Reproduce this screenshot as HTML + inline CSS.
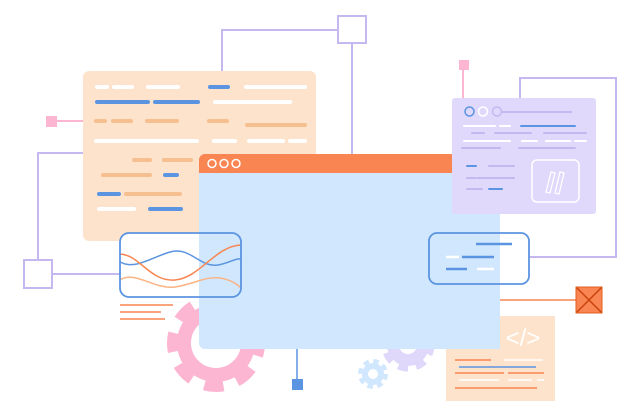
<!DOCTYPE html>
<html><head><meta charset="utf-8"><style>
html,body{margin:0;padding:0;background:#fff;}
svg{display:block;}
</style></head><body>
<svg width="640" height="417" viewBox="0 0 640 417" xmlns="http://www.w3.org/2000/svg">
<!-- connectors -->
<g fill="none" stroke="#c5b8f0" stroke-width="2">
  <polyline points="222,71 222,30 338,30"/>
  <rect x="338" y="16" width="28" height="27" fill="#fff"/>
  <line x1="352" y1="43" x2="352" y2="154"/>
  <polyline points="83,153 38,153 38,260"/>
  <rect x="24" y="260" width="28" height="28" fill="#fff"/>
  <line x1="52" y1="274" x2="120" y2="274"/>
  <polyline points="520,98 520,78 616,78 616,257 529,257"/>
</g>
<line x1="57" y1="121" x2="83" y2="121" stroke="#fdb6d1" stroke-width="2"/>
<rect x="46" y="116" width="11" height="11" fill="#fdb6d1"/>
<line x1="463" y1="70" x2="463" y2="98" stroke="#fdb6d1" stroke-width="2"/>
<rect x="459" y="60" width="10" height="10" fill="#fdb6d1"/>

<!-- peach panel -->
<rect x="83" y="71" width="233" height="170" rx="6" fill="#fee3cc"/>
<g stroke-width="4" stroke-linecap="round" fill="none">
  <g stroke="#fff">
    <path d="M97 87h10M114 87h18M148 87h30M246 87h59M215 102h75M96 141h101M214 141h21M249 141h34M290 141h15M99 209h35"/>
  </g>
  <g stroke="#5b94e0">
    <path d="M210 87h18M97 102h51M155 102h43M165 175h12M99 194h20M150 209h31"/>
  </g>
  <g stroke="#f5bf8f">
    <path d="M96 121h9M113 121h18M147 121h30M209 121h18M247 125h58M134 160h16M164 160h27M103 175h47M126 194h54"/>
  </g>
</g>

<!-- gears -->
<g transform="translate(216,343)" fill="none" stroke="#fdb6d1">
  <circle r="32" stroke-width="14"/>
  <circle r="43" stroke-width="12" stroke-dasharray="19 14" transform="rotate(-8)"/>
</g>
<g transform="translate(408,345)" fill="none" stroke="#e0d8fb">
  <circle r="15" stroke-width="12"/>
  <circle r="23" stroke-width="7" stroke-dasharray="10 8"/>
</g>
<g transform="translate(373,374)" fill="none" stroke="#d1e7fe">
  <circle r="8" stroke-width="6"/>
  <circle r="12.5" stroke-width="5" stroke-dasharray="5.5 4.3"/>
</g>

<!-- chart box bg -->
<rect x="120" y="233" width="121" height="64" rx="9" fill="#fff"/>
<g stroke="#f88552" stroke-width="1.5">
  <line x1="120" y1="305" x2="173" y2="305"/>
  <line x1="120" y1="312" x2="161" y2="312"/>
  <line x1="120" y1="319" x2="165" y2="319"/>
</g>

<!-- pin -->
<line x1="297" y1="349" x2="297" y2="380" stroke="#5b94e0" stroke-width="1.5"/>
<rect x="292" y="379" width="11" height="11" fill="#5b94e0"/>

<!-- code panel -->
<rect x="446" y="316" width="109" height="85" fill="#fee3cc"/>

<!-- main window -->
<path d="M199 160 a6 6 0 0 1 6 -6 H500 V349 H205 a6 6 0 0 1 -6 -6 Z" fill="#d1e7fe"/>
<path d="M199 160 a6 6 0 0 1 6 -6 H500 V173 H199 Z" fill="#f88552"/>
<g fill="none" stroke="#fff" stroke-width="1.5">
  <circle cx="212" cy="163.5" r="4"/><circle cx="224" cy="163.5" r="4"/><circle cx="236" cy="163.5" r="4"/>
</g>

<!-- chart curves + outline -->
<path d="M120 262 C135 270 150 258 170 252 C190 246 200 268 218 265 C230 263 235 258 241 259" fill="none" stroke="#5b94e0" stroke-width="1.5"/>
<path d="M120 254 C140 255 150 282 175 280 C200 278 215 246 241 245" fill="none" stroke="#f88552" stroke-width="1.5"/>
<path d="M120 280 C135 270 155 290 175 287 C195 284 205 276 220 278 C232 280 238 285 241 288" fill="none" stroke="#f9b485" stroke-width="1.5"/>
<rect x="120" y="233" width="121" height="64" rx="9" fill="none" stroke="#5b94e0" stroke-width="1.8"/>

<!-- orange connector + X box -->
<line x1="500" y1="300" x2="576" y2="300" stroke="#f88552" stroke-width="1.5"/>
<rect x="576" y="287" width="26" height="26" fill="#f88552"/>
<path d="M576 287 L602 313 M602 287 L576 313" stroke="#c9430d" stroke-width="1.5"/>
<rect x="576" y="287" width="26" height="26" fill="none" stroke="#e0601f" stroke-width="1"/>

<!-- code panel content -->
<text x="523" y="346" text-anchor="middle" font-family="Liberation Sans, sans-serif" font-size="24" fill="#fff">&lt;/&gt;</text>
<g stroke-width="1.6">
  <path d="M455 360h36M455 373h49M508 373h36M455 388h82" stroke="#f88552"/>
  <path d="M504 360h39M459 380h40M508 380h24M537 380h7" stroke="#fff"/>
  <path d="M459 367h77" stroke="#5b94e0"/>
</g>

<!-- purple panel -->
<rect x="452" y="98" width="144" height="116" rx="3" fill="#e0d9fc"/>
<g fill="none" stroke-width="1.5">
  <circle cx="469.5" cy="111.5" r="4.5" stroke="#5b94e0"/>
  <circle cx="483" cy="111.5" r="4.5" stroke="#fff"/>
  <circle cx="497" cy="111.5" r="4.5" stroke="#c5b8f0"/>
</g>
<g stroke-width="2" stroke-linecap="round">
  <path d="M502 112h69M472 133h12M495 133h36M544 133h42M462 148h38M519 148h56M489 166h25M467 178h9M478 178h36M467 189h15" stroke="#c5b8f0"/>
  <path d="M464 126h31M500 126h10M464 141h46M522 141h15M546 141h24M575 141h11" stroke="#fff"/>
  <path d="M521 126h54M467 166h9M489 189h13" stroke="#5b94e0"/>
</g>
<rect x="532" y="160" width="47" height="42" rx="5" fill="none" stroke="#fff" stroke-width="1.5"/>
<g fill="none" stroke="#fff" stroke-width="1.3">
  <path d="M546 192 L551 172 L555 173 L550 193 Z"/>
  <path d="M555 193 L560 172 L564 173 L559 194 Z"/>
</g>

<!-- right blue box -->
<rect x="429" y="233" width="100" height="51" rx="8" fill="none" stroke="#5b94e0" stroke-width="1.8"/>
<g stroke-width="2.5">
  <path d="M476 244h36M462 257h32M446 269h21" stroke="#5b94e0"/>
  <path d="M446 257h13M477 269h17" stroke="#fff"/>
</g>
</svg>
</body></html>
